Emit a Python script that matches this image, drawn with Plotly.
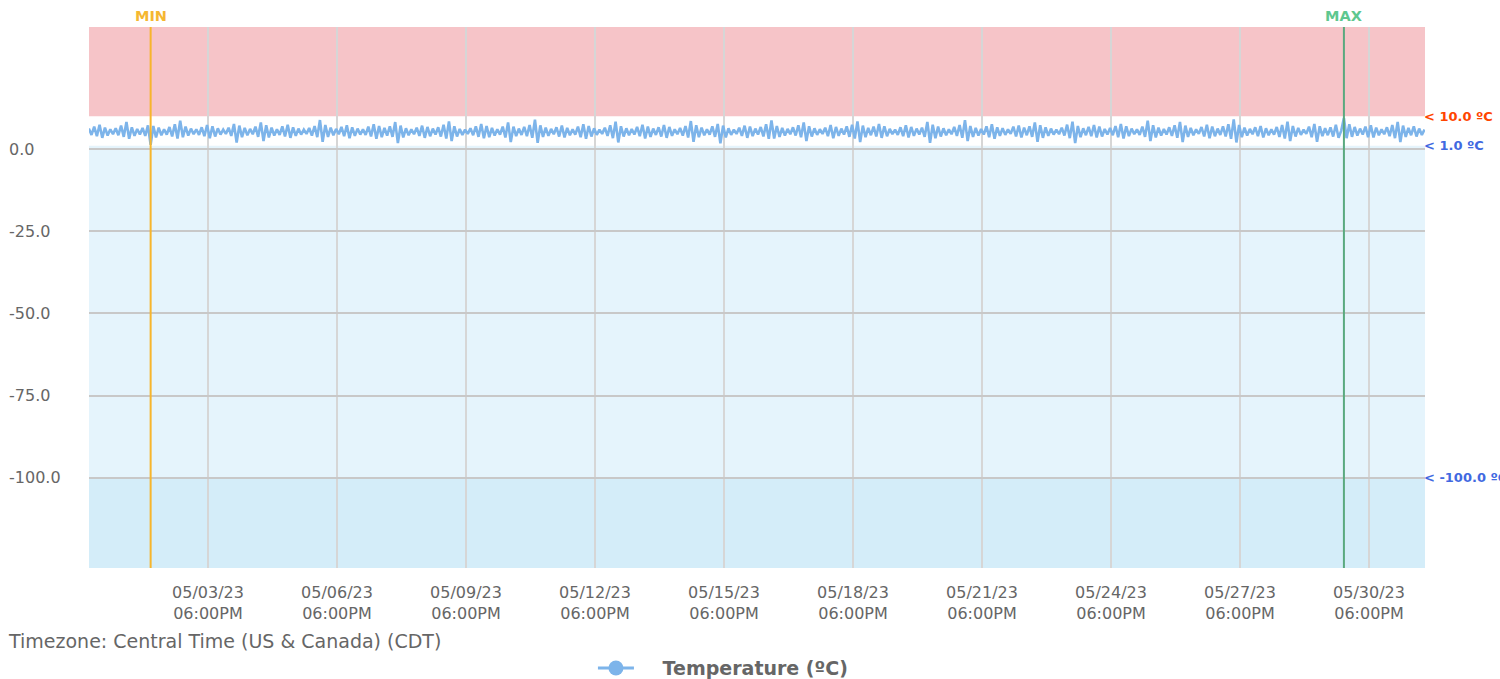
import pandas as pd
import plotly.graph_objects as go

# readings every 90 minutes
start = "2023-04-30 23:30"
step = "90min"
temps = [
    6.2, 4.3, 6.8, 3.9, 7.4, 3.4, 6.5, 4.1, 6.0, 4.5, 6.3, 4.2, 7.1, 3.7, 8.2, 3.1, 6.6, 4.0, 6.1, 4.4,
    6.4, 4.0, 7.2, 1.3, 7.0, 3.5, 6.5, 4.2, 6.0, 4.4, 6.7, 3.8, 7.5, 3.2, 8.6, 3.6, 6.8, 4.1, 6.2, 4.5,
    6.0, 4.3, 6.6, 3.9, 7.3, 3.3, 6.9, 3.8, 6.3, 4.4, 5.9, 4.6, 6.5, 4.0, 7.6, 2.0, 7.1, 3.6, 6.4, 4.2,
    6.1, 4.5, 6.8, 3.7, 8.1, 2.4, 7.2, 3.5, 6.5, 4.1, 6.0, 4.3, 6.9, 3.8, 7.4, 3.4, 6.6, 4.0, 6.2, 4.4,
    5.9, 4.6, 6.4, 4.1, 7.0, 3.6, 8.8, 2.2, 7.3, 3.7, 6.5, 4.2, 6.1, 4.5, 6.7, 3.9, 7.2, 3.3, 6.6, 4.0,
    6.2, 4.4, 6.0, 4.3, 6.8, 3.8, 7.5, 3.1, 7.0, 3.6, 6.4, 4.1, 6.9, 3.7, 8.2, 1.8, 7.1, 3.5, 6.3, 4.2,
    6.0, 4.5, 6.5, 4.0, 7.1, 3.4, 6.7, 3.9, 6.2, 4.4, 6.6, 3.8, 7.4, 3.2, 8.4, 2.4, 6.9, 3.8, 6.1, 4.3,
    5.9, 4.6, 6.3, 4.2, 6.9, 3.7, 7.6, 3.3, 7.0, 3.6, 6.4, 4.1, 6.0, 4.4, 6.8, 3.5, 8.1, 2.1, 6.8, 3.9,
    6.2, 4.3, 6.7, 3.9, 7.3, 3.4, 8.9, 1.9, 7.2, 3.7, 6.5, 4.0, 6.1, 4.5, 6.6, 3.8, 7.1, 3.5, 6.4, 4.2,
    6.0, 4.4, 6.8, 3.6, 7.5, 3.1, 7.0, 3.8, 6.3, 4.3, 5.9, 4.6, 6.5, 4.0, 7.2, 3.3, 8.3, 2.0, 6.9, 3.8,
    6.3, 4.2, 6.1, 4.4, 6.7, 3.9, 7.4, 3.2, 6.8, 3.7, 6.2, 4.3, 6.6, 3.8, 7.3, 3.4, 6.7, 4.0, 6.0, 4.5,
    6.4, 4.1, 7.0, 3.5, 8.5, 2.2, 7.2, 3.6, 6.5, 4.2, 6.0, 4.4, 6.9, 3.7, 7.6, 1.7, 7.1, 3.5, 6.3, 4.3,
    5.9, 4.6, 6.5, 4.0, 7.1, 3.4, 6.8, 3.9, 6.2, 4.4, 6.7, 3.8, 7.5, 3.1, 8.7, 3.2, 7.0, 3.7, 6.4, 4.1,
    6.1, 4.5, 6.6, 4.1, 7.2, 3.6, 8.1, 2.4, 6.9, 3.8, 6.3, 4.3, 6.0, 4.6, 6.5, 3.9, 7.3, 3.3, 6.7, 4.0,
    6.2, 4.4, 6.9, 3.7, 7.4, 3.2, 8.4, 2.1, 7.1, 3.6, 6.4, 4.2, 6.8, 3.8, 7.6, 3.4, 6.9, 3.9, 6.1, 4.5,
    5.9, 4.3, 6.6, 3.9, 7.2, 3.5, 6.7, 4.0, 6.2, 4.4, 6.5, 3.7, 8.2, 1.9, 7.4, 3.3, 6.8, 3.8, 6.3, 4.2,
    6.0, 4.5, 6.7, 4.0, 7.3, 3.4, 8.8, 2.4, 7.0, 3.7, 6.4, 4.1, 6.1, 4.4, 6.9, 3.6, 7.5, 3.1, 6.6, 4.0,
    6.3, 4.3, 6.0, 4.6, 6.8, 3.8, 7.1, 3.5, 6.5, 4.2, 6.9, 3.7, 8.1, 2.2, 7.2, 3.4, 6.6, 4.0, 6.2, 4.4,
    5.9, 4.5, 6.5, 4.1, 7.4, 3.3, 8.3, 1.8, 7.0, 3.6, 6.3, 4.2, 6.7, 3.9, 7.3, 3.5, 6.8, 3.8, 6.1, 4.4,
    6.4, 4.2, 7.0, 3.6, 7.6, 3.2, 6.9, 3.9, 6.2, 4.5, 6.0, 4.3, 6.8, 3.7, 8.6, 2.4, 7.2, 3.5, 6.5, 4.1,
    6.1, 4.4, 6.6, 4.0, 7.2, 3.4, 8.2, 2.1, 7.1, 3.7, 6.4, 4.2, 6.0, 4.6, 6.7, 3.8, 7.4, 3.3, 6.8, 3.9,
    6.2, 4.3, 6.9, 3.8, 7.5, 3.1, 9.0, 2.0, 7.3, 3.6, 6.5, 4.1, 6.1, 4.5, 6.6, 3.9, 7.0, 3.5, 6.3, 4.2,
    6.0, 4.4, 6.7, 3.7, 7.3, 3.2, 8.3, 2.4, 7.0, 3.8, 6.4, 4.3, 5.9, 4.6, 6.8, 3.6, 7.6, 2.2, 6.9, 3.9,
    6.3, 4.2, 6.6, 3.8, 7.4, 3.4, 5.6, 9.4, 3.3, 7.5, 3.7, 6.7, 4.1, 6.2, 4.4, 6.8, 3.6, 7.2, 3.5, 6.5,
    4.2, 6.0, 4.5, 6.6, 3.9, 7.3, 3.3, 8.2, 2.1, 7.1, 3.7, 6.4, 4.2, 6.9, 3.8, 6.2, 4.3, 5.9,
]

y_ticks = [0, -25, -50, -75, -100]
high_limit = 10.0
low_limit = 1.0
floor_limit = -100.0
x_range = ["2023-04-30 23:36", "2023-06-01 01:15"]
y_range = [-127.4, 37.1]
first_tick = "2023-05-03 18:00"
tick_days = 3

times = pd.date_range(start, periods=len(temps), freq=step)
series = pd.Series(temps, index=times)
t_min = series.idxmin()
t_max = series.idxmax()

GRAY = "#666666"
LINE_BLUE = "#7db4ea"

fig = go.Figure()
fig.add_trace(go.Scatter(
    x=series.index, y=series.values, mode="lines",
    line=dict(color=LINE_BLUE, width=2.6), showlegend=False,
))
# legend entry only (line + dot)
fig.add_trace(go.Scatter(
    x=[None], y=[None], mode="lines+markers",
    name="\u00a0\u00a0\u00a0\u2009Temperature (ºC)",
    line=dict(color=LINE_BLUE, width=3), marker=dict(color=LINE_BLUE, size=15),
))

bands = [
    (high_limit, y_range[1], "#f6c4c8"),
    (floor_limit, low_limit, "#e5f4fc"),
    (y_range[0], floor_limit, "#d4edf9"),
]
for y0, y1, col in bands:
    fig.add_shape(type="rect", xref="paper", x0=0, x1=1, yref="y", y0=y0, y1=y1,
                  fillcolor=col, line_width=0, layer="below")

marks = [(t_min, "#f7b52c", "#f5b731", "MIN"), (t_max, "#5aa97f", "#5ec78f", "MAX")]
for t, line_col, text_col, lab in marks:
    fig.add_shape(type="line", xref="x", x0=t, x1=t, yref="paper", y0=0, y1=1,
                  line=dict(color=line_col, width=2))
    fig.add_annotation(x=t, xref="x", y=1, yref="paper", yanchor="bottom", yshift=1,
                       text=lab, showarrow=False,
                       font=dict(size=14.5, color=text_col, weight="bold"))

for v in y_ticks:
    fig.add_annotation(x=-0.0599, xref="paper", xanchor="left", xshift=-2, y=v, yref="y",
                       text=f"{v:.1f}", showarrow=False, font=dict(size=16, color=GRAY))

for v, col in [(high_limit, "#ff4500"), (low_limit, "#4169e1"), (floor_limit, "#4169e1")]:
    fig.add_annotation(x=1, xref="paper", xanchor="left", xshift=-3, y=v, yref="y",
                       text=f"< {v:.1f} ºC", showarrow=False,
                       font=dict(size=13, color=col, weight="bold"))

fig.add_annotation(x=-0.0599, xref="paper", xanchor="left", xshift=-3, y=-0.135, yref="paper",
                   yanchor="middle", text="Timezone: Central Time (US & Canada) (CDT)",
                   showarrow=False, font=dict(size=19, color=GRAY))

fig.update_xaxes(
    type="date", range=x_range, tick0=first_tick, dtick=tick_days * 86400000,
    tickformat="%m/%d/%y<br>%I:%M%p", showgrid=True, gridcolor="#d6d6d6", gridwidth=1.5,
    zeroline=False, showline=False, ticks="outside", ticklen=10, tickcolor="rgba(0,0,0,0)",
    tickfont=dict(size=16, color=GRAY),
)
fig.update_yaxes(
    range=y_range, tickvals=y_ticks, showticklabels=False, showgrid=True,
    gridcolor="#c8c8c8", gridwidth=2, zeroline=False, showline=False,
)
fig.update_layout(
    width=1500, height=679,
    margin=dict(l=89, r=75, t=27, b=111, autoexpand=False),
    plot_bgcolor="white", paper_bgcolor="white",
    font=dict(family="DejaVu Sans", color=GRAY),
    legend=dict(orientation="h", x=0.3772, xanchor="left", y=-0.185, yanchor="middle",
                itemwidth=36, font=dict(size=19, color=GRAY, weight="bold")),
)

fig.write_html("out.html", config={"displayModeBar": False},
               post_script="document.body.style.margin='0';")
